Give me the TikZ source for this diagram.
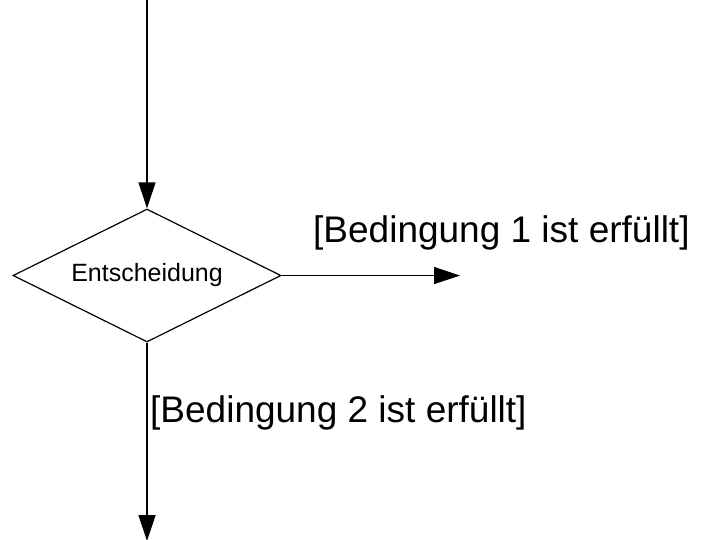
\documentclass[tikz,border=0pt]{standalone}
\usepackage{fontspec}
\setmainfont{Liberation Sans}
\usetikzlibrary{shapes.geometric,arrows.meta}
\begin{document}
\begin{tikzpicture}[x=1pt,y=-1pt,
  flow/.style={line width=1.3pt,-{Triangle[length=26pt,width=17pt]}},
  decision/.style={shape=diamond,draw,line width=1.2pt,inner sep=0pt,
    shape aspect=2,minimum width=268pt,minimum height=133pt,
    font=\fontsize{25}{30}\selectfont},
  guard/.style={font=\fontsize{37}{44}\selectfont,anchor=base west,inner sep=0pt}]
  \useasboundingbox (0,0) rectangle (708,539);
  % decision node and its incoming/outgoing flows
  \node[decision] (d) at (147,275.5) {Entscheidung};
  \coordinate (in) at (147,-5);
  \coordinate (outr) at (460,275.5);
  \coordinate (outb) at (147,541);
  \draw[flow] (in) -- (d.north);
  \draw[flow] (d.east) -- (outr);
  \draw[flow] (d.south) -- (outb);
  % guard conditions
  \node[guard] (g1) at (313,242) {[Bedingung 1 ist erfüllt]};
  \node[guard] (g2) at (150,422) {[Bedingung 2 ist erfüllt]};
\end{tikzpicture}
\end{document}
